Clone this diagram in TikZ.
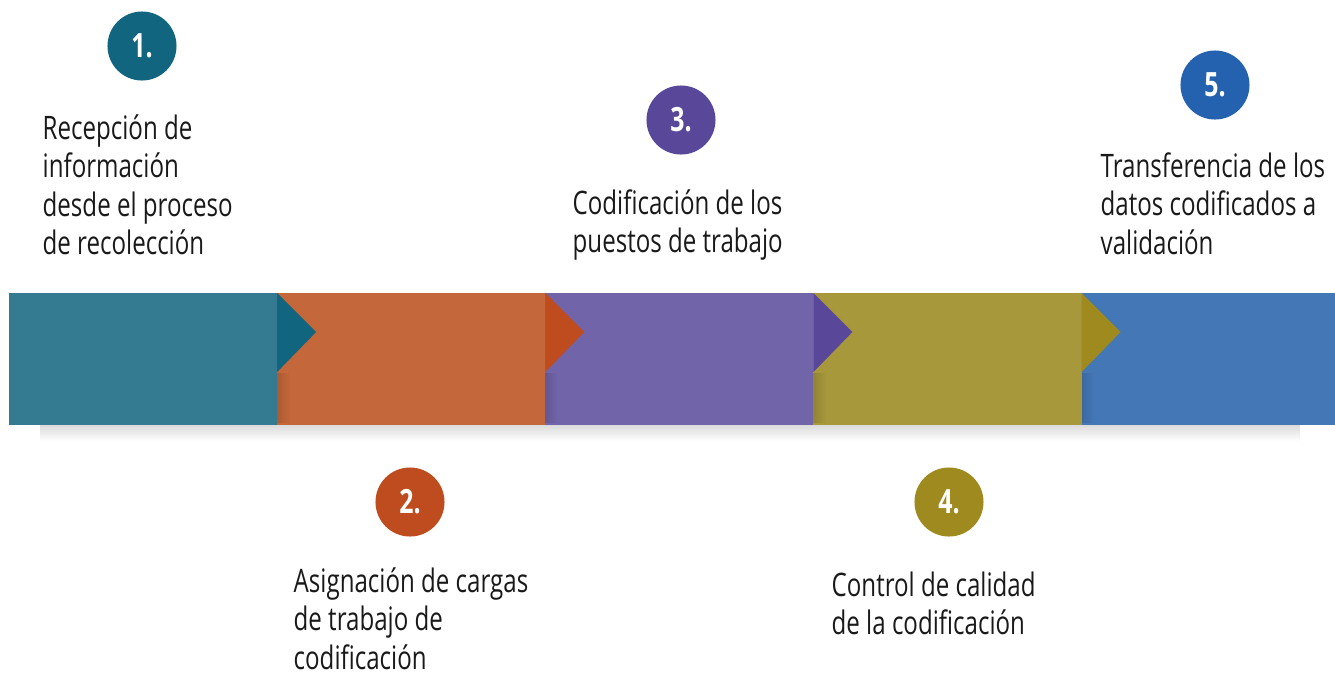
\documentclass[tikz,border=0pt]{standalone}
\usepackage{fontspec}
\setmainfont[FakeStretch=0.745]{Open Sans}
\usetikzlibrary{positioning,fadings}

\definecolor{segA}{HTML}{347A91}
\definecolor{segB}{HTML}{C4673A}
\definecolor{segC}{HTML}{7264A8}
\definecolor{segD}{HTML}{A6983B}
\definecolor{segE}{HTML}{4477B6}
\definecolor{triA}{HTML}{12657F}
\definecolor{triB}{HTML}{BF4C1E}
\definecolor{triC}{HTML}{59479A}
\definecolor{triD}{HTML}{9E8A1E}
\definecolor{dotE}{HTML}{2462AF}

\tikzset{
  segbox/.style={minimum width=2.68cm, minimum height=1.32cm, inner sep=0pt, outer sep=0pt},
  numdot/.style={circle, minimum size=0.69cm, inner sep=0pt, text=white,
    font=\bfseries\fontsize{9.5}{11}\selectfont},
  steptext/.style={anchor=north west, inner sep=0pt, align=left, text=black!90,
    font=\fontsize{9.2}{10.9}\selectfont},
}

\begin{document}
\begin{tikzpicture}[x=0.01cm,y=-0.01cm]
        \useasboundingbox (0,0) rectangle (1335,675);
        % soft shadow under the band
        \shade[top color=black!14,bottom color=white] (40,425) rectangle (1300,441);
        % band
        \node[segbox,fill=segA,anchor=west] (seg1) at (9,359) {};
        \node[segbox,fill=segB,right=0pt of seg1] (seg2) {};
        \node[segbox,fill=segC,right=0pt of seg2] (seg3) {};
        \node[segbox,fill=segD,right=0pt of seg3] (seg4) {};
        \node[segbox,fill=segE,right=0pt of seg4,minimum width=2.54cm] (seg5) {};
        % little shade under each tip
        \foreach \s in {seg2,seg3,seg4,seg5}
          \fill[black,opacity=0.12,path fading=east] (\s.north west) ++(0,80) rectangle ++(12,50);
        % tips
        \fill[triA] (seg2.north west) -- ++(39,39) -- ++(-39,40) -- cycle ;
        \fill[triB] (seg3.north west) -- ++(39,39) -- ++(-39,40) -- cycle ;
        \fill[triC] (seg4.north west) -- ++(39,39) -- ++(-39,40) -- cycle ;
        \fill[triD] (seg5.north west) -- ++(39,39) -- ++(-39,40) -- cycle ;
        % numbers
        \node[numdot,fill=triA] (dot1) at (142,46) {1.};
        \node[numdot,fill=triB] (dot2) at (410,502) {2.};
        \node[numdot,fill=triC] (dot3) at (681,120) {3.};
        \node[numdot,fill=triD] (dot4) at (949,502) {4.};
        \node[numdot,fill=dotE] (dot5) at (1215,85) {5.};
        % texts
        \node[steptext] (txt1) at (42,114) {Recepción de\\información\\desde el proceso\\de recolección};
        \node[steptext] (txt2) at (293,567) {Asignación de cargas\\de trabajo de\\codificación};
        \node[steptext] (txt3) at (572,189) {Codificación de los\\puestos de trabajo};
        \node[steptext] (txt4) at (831,571) {Control de calidad\\de la codificación};
        \node[steptext] (txt5) at (1100,152) {Transferencia de los\\datos codificados a\\validación};
\end{tikzpicture}
\end{document}
